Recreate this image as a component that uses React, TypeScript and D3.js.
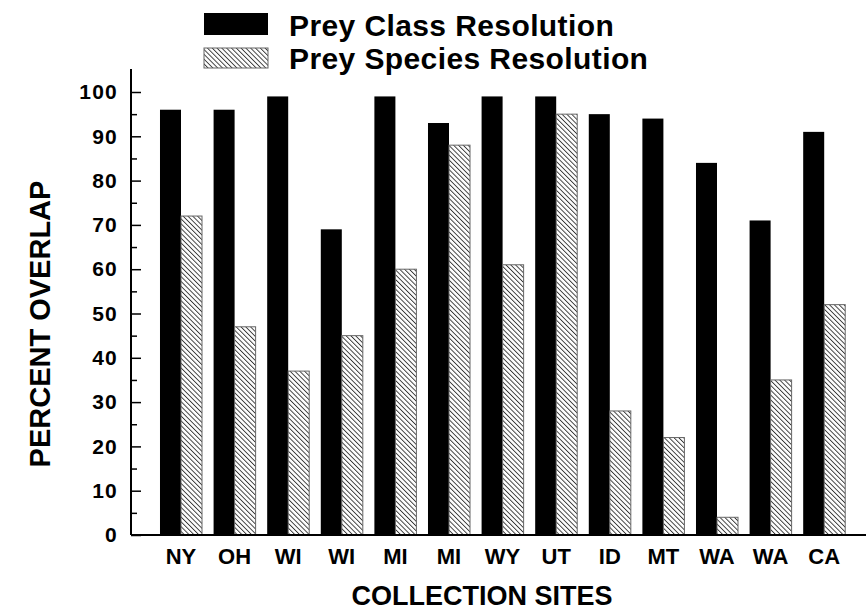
import { useRef, useEffect } from "react"
import * as d3 from "d3"

const sites = ["NY", "OH", "WI", "WI", "MI", "MI", "WY", "UT", "ID", "MT", "WA", "WA", "CA"]
const classRes = [96, 96, 99, 69, 99, 93, 99, 99, 95, 94, 84, 71, 91]
const speciesRes = [72, 47, 37, 45, 60, 88, 61, 95, 28, 22, 4, 35, 52]
const seriesNames = ["Prey Class Resolution", "Prey Species Resolution"]
const majorTicks = [0, 10, 20, 30, 40, 50, 60, 70, 80, 90, 100]
const minorTicks = [5, 15, 25, 35, 45, 55, 65, 75, 85, 95]

const FONT = "'Liberation Sans', Arial, Helvetica, sans-serif"

const App = () => {
  const svgRef = useRef<SVGSVGElement>(null)

  useEffect(() => {
    const svg = d3.select(svgRef.current)
    svg.selectAll("*").remove()

    const axisX = 131
    const axisRight = 866

    // hatch pattern: lines running top-left to bottom-right
    const step = 3.4
    const defs = svg.append("defs")
    const pat = defs
      .append("pattern")
      .attr("id", "hatch")
      .attr("patternUnits", "userSpaceOnUse")
      .attr("width", step)
      .attr("height", step)
      .attr("patternTransform", "rotate(-45)")
    pat.append("rect").attr("width", step).attr("height", step).attr("fill", "white")
    pat
      .append("line")
      .attr("x1", 0.5)
      .attr("y1", 0)
      .attr("x2", 0.5)
      .attr("y2", step)
      .attr("stroke", "#222")
      .attr("stroke-width", 0.85)

    const data = sites.map((s, i) => ({ idx: String(i), site: s, cls: classRes[i], sp: speciesRes[i] }))

    const x = d3
      .scaleBand()
      .domain(data.map((d) => d.idx))
      .range([154.2, 851])
      .paddingInner(0.216)
      .paddingOuter(0.108)

    const xSub = d3.scaleBand().domain(["cls", "sp"]).range([0, x.bandwidth()])

    const y = d3.scaleLinear().domain([0, 100]).range([535, 92])

    // bars
    const g = svg.append("g")
    g.selectAll("rect.cls")
      .data(data)
      .enter()
      .append("rect")
      .attr("class", "cls")
      .attr("x", (d) => x(d.idx) + xSub("cls"))
      .attr("y", (d) => y(d.cls))
      .attr("width", xSub.bandwidth())
      .attr("height", (d) => y(0) - y(d.cls))
      .attr("fill", "black")

    g.selectAll("rect.sp")
      .data(data)
      .enter()
      .append("rect")
      .attr("class", "sp")
      .attr("x", (d) => x(d.idx) + xSub("sp"))
      .attr("y", (d) => y(d.sp))
      .attr("width", xSub.bandwidth())
      .attr("height", (d) => y(0) - y(d.sp))
      .attr("fill", "url(#hatch)")
      .attr("stroke", "#666")
      .attr("stroke-width", 1)

    // y axis, ticks point inward
    const yAxis = svg
      .append("g")
      .attr("transform", `translate(${axisX},0)`)
      .call(d3.axisLeft(y).tickValues(majorTicks).tickSize(-10).tickPadding(13))
    yAxis.select(".domain").remove()
    yAxis.selectAll("line").attr("stroke", "black").attr("stroke-width", 1.5)
    yAxis
      .selectAll("text")
      .attr("font-family", FONT)
      .attr("font-weight", "bold")
      .attr("font-size", 21)
      .attr("letter-spacing", 1.2)
      .attr("fill", "black")

    const yMinor = svg
      .append("g")
      .attr("transform", `translate(${axisX},0)`)
      .call(d3.axisLeft(y).tickValues(minorTicks).tickSize(-6).tickFormat(() => ""))
    yMinor.select(".domain").remove()
    yMinor.selectAll("line").attr("stroke", "black").attr("stroke-width", 1.5)

    svg
      .append("line")
      .attr("x1", axisX)
      .attr("x2", axisX)
      .attr("y1", y(0))
      .attr("y2", y(105.2))
      .attr("stroke", "black")
      .attr("stroke-width", 2)

    // x axis
    svg
      .append("line")
      .attr("x1", axisX)
      .attr("x2", axisRight)
      .attr("y1", y(0))
      .attr("y2", y(0))
      .attr("stroke", "black")
      .attr("stroke-width", 2)

    svg
      .selectAll("text.site")
      .data(data)
      .enter()
      .append("text")
      .attr("class", "site")
      .attr("x", (d) => x(d.idx) + x.bandwidth() / 2)
      .attr("y", 564)
      .attr("text-anchor", "middle")
      .attr("font-family", FONT)
      .attr("font-weight", "bold")
      .attr("font-size", 22)
      .text((d) => d.site)

    // axis titles
    svg
      .append("text")
      .attr("x", 482)
      .attr("y", 605)
      .attr("text-anchor", "middle")
      .attr("font-family", FONT)
      .attr("font-weight", "bold")
      .attr("font-size", 27)
      .text("COLLECTION SITES")

    svg
      .append("text")
      .attr("transform", `translate(50,324) rotate(-90)`)
      .attr("text-anchor", "middle")
      .attr("font-family", FONT)
      .attr("font-weight", "bold")
      .attr("font-size", 29)
      .text("PERCENT OVERLAP")

    // legend
    const legend = svg.append("g")
    legend.append("rect").attr("x", 204).attr("y", 13).attr("width", 64).attr("height", 22).attr("fill", "black")
    legend
      .append("rect")
      .attr("x", 204)
      .attr("y", 48)
      .attr("width", 64)
      .attr("height", 20)
      .attr("fill", "url(#hatch)")
      .attr("stroke", "#666")
      .attr("stroke-width", 1)
    seriesNames.forEach((name, i) => {
      legend
        .append("text")
        .attr("x", 289)
        .attr("y", 36 + i * 33)
        .attr("font-family", FONT)
        .attr("font-weight", "bold")
        .attr("font-size", 30)
        .attr("letter-spacing", 0.4)
        .text(name)
    })
  }, [])

  return (
    <svg
      ref={svgRef}
      width={866}
      height={613}
      style={{ position: "absolute", left: 0, top: 0, background: "white" }}
    />
  )
}

export default App
